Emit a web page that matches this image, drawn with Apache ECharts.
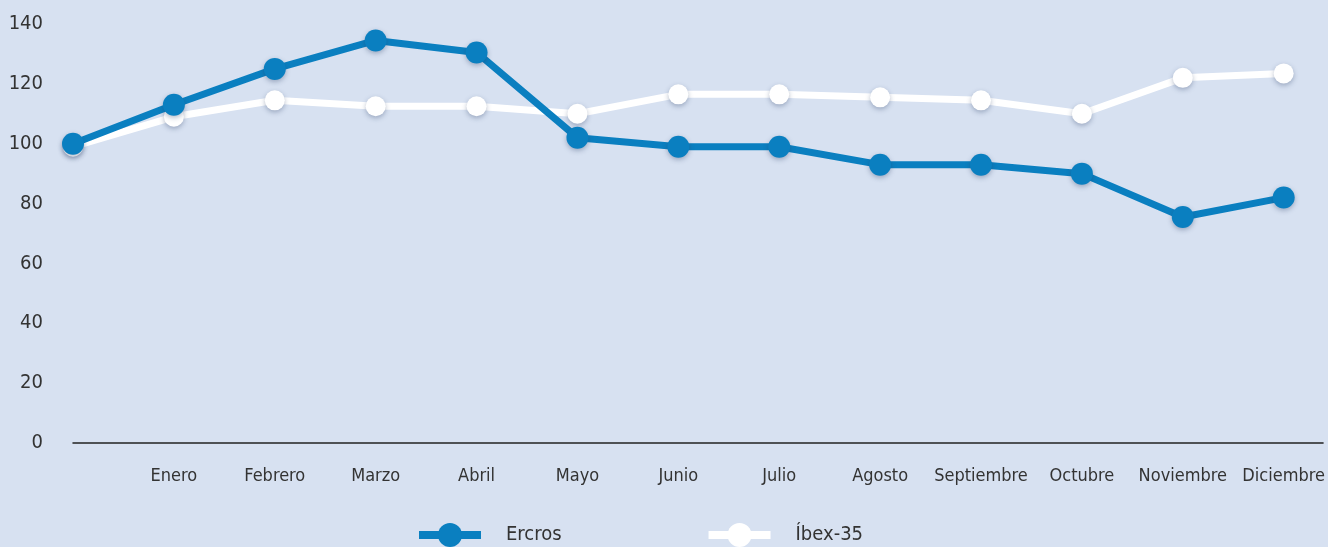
<!DOCTYPE html>
<html>
<head>
<meta charset="utf-8">
<script src="https://cdn.jsdelivr.net/npm/echarts@6/dist/echarts.min.js"></script>
<style>
  html, body { margin: 0; padding: 0; background: #d7e1f1; }
  #chart { width: 1328px; height: 547px; }
</style>
</head>
<body>
<div id="chart"></div>
<script>
// categorías (la primera es el punto base, sin etiqueta)
var meses = ['', 'Enero', 'Febrero', 'Marzo', 'Abril', 'Mayo', 'Junio', 'Julio',
             'Agosto', 'Septiembre', 'Octubre', 'Noviembre', 'Diciembre'];
var ercros = [100, 113, 125, 134.5, 130.5, 102, 99, 99, 93, 93, 90, 75.5, 82];
var ibex35 = [99, 109, 114.5, 112.5, 112.5, 110, 116.5, 116.5, 115.5, 114.5, 110, 122, 123.5];
var yTicks = [0, 20, 40, 60, 80, 100, 120, 140];

function pairs(arr) {
    return arr.map(function (v, i) { return [i, v]; });
}

var fontFam = '"Liberation Sans Narrow", "DejaVu Sans Condensed", sans-serif';
var azul = '#0a7fc0';

var myChart = echarts.init(document.getElementById('chart'));
myChart.setOption({
    backgroundColor: '#d7e1f1',
    animation: false,
    grid: { left: 73, right: 3, top: 24, bottom: 104 },
    legend: {
        top: 518,
        left: 410,
        itemWidth: 62,
        itemHeight: 30,
        itemGap: 143,
        textStyle: { color: '#333', fontSize: 20, fontFamily: fontFam, padding: [0, 0, 0, 20] },
        data: [
            { name: 'Ercros', lineStyle: { width: 8, color: azul } },
            { name: 'Íbex-35', lineStyle: { width: 8, color: '#ffffff' } }
        ]
    },
    xAxis: {
        type: 'value',
        min: 0,
        max: 12.39,
        interval: 1,
        splitLine: { show: false },
        axisTick: { show: false },
        axisLine: { show: true, lineStyle: { color: '#222', width: 1.5 } },
        axisLabel: {
            color: '#333',
            fontSize: 18,
            fontFamily: fontFam,
            margin: 24,
            showMaxLabel: false,
            formatter: function (v) {
                return v === Math.round(v) ? (meses[v] || '') : '';
            }
        }
    },
    yAxis: {
        type: 'value',
        min: yTicks[0],
        max: yTicks[yTicks.length - 1],
        interval: 20,
        splitLine: { show: false },
        axisLine: { show: false },
        axisTick: { show: false },
        axisLabel: { color: '#333', fontSize: 20, fontFamily: fontFam, margin: 30 }
    },
    series: [{
        name: 'Íbex-35',
        type: 'line',
        data: pairs(ibex35),
        symbol: 'circle',
        symbolSize: 20,
        z: 2,
        lineStyle: { color: '#ffffff', width: 7 },
        itemStyle: {
            color: '#ffffff',
            shadowColor: 'rgba(40,60,100,0.35)',
            shadowBlur: 5,
            shadowOffsetY: 2
        }
    }, {
        name: 'Ercros',
        type: 'line',
        data: pairs(ercros),
        symbol: 'circle',
        symbolSize: 22,
        z: 3,
        lineStyle: { color: azul, width: 7 },
        itemStyle: {
            color: azul,
            shadowColor: 'rgba(40,60,100,0.35)',
            shadowBlur: 5,
            shadowOffsetY: 2
        }
    }]
});
</script>
</body>
</html>
